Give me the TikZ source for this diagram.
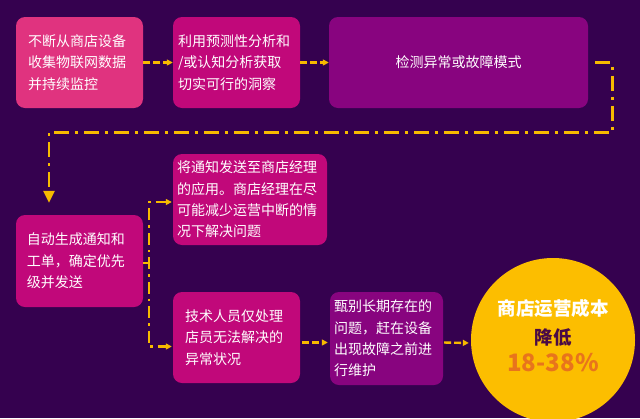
\documentclass[tikz,border=0pt]{standalone}
\usepackage{fontspec}
\newfontfamily\cjk{Noto Sans CJK SC}
\usepackage{tikz}
\usetikzlibrary{positioning, calc, arrows.meta}

\definecolor{bgpurple}{HTML}{35014F}
\definecolor{pinkbox}{HTML}{E0337F}
\definecolor{magbox}{HTML}{C1087A}
\definecolor{purplebox}{HTML}{88047F}
\definecolor{flowyellow}{HTML}{F7BA00}
\definecolor{costyellow}{HTML}{FCBE00}
\definecolor{darkplum}{HTML}{4A0A45}
\definecolor{costorange}{HTML}{E8741C}

\begin{document}
\begin{tikzpicture}[
x=1pt, y=-1pt,
    stepbox/.style={rectangle, rounded corners=9pt, minimum height=91pt, text=white, align=left, inner sep=0pt, font=\cjk\fontsize{14}{21.3}\selectfont},
    costtext/.style={inner sep=0pt, font=\cjk\bfseries\fontsize{18.5}{22}\selectfont},
    flow/.style={draw=flowyellow, line width=2.4pt, dash pattern=on 7pt off 3pt, -{Triangle[length=6pt,width=6pt]}},
    loopline/.style={draw=flowyellow, line width=2.6pt, dash pattern=on 15pt off 6pt on 3pt off 6pt, -{Triangle[length=12pt,width=11pt]}},
    branch/.style={draw=flowyellow, line width=2.4pt, dash pattern=on 12pt off 5pt on 2.5pt off 5pt, -{Triangle[length=6pt,width=6pt]}}
]

    \useasboundingbox[fill=bgpurple] (0,0) rectangle (640,418);

    % ================= TOP ROW =================
    \node[stepbox, fill=pinkbox, minimum width=127pt, text width=103pt] (collect) at (79.5, 62.5) {不断从商店设备\\收集物联网数据\\并持续监控};
    \node[stepbox, fill=magbox, minimum width=127pt, text width=117pt] (insight) at (236.5, 62.5) {利用预测性分析和\\/或认知分析获取\\切实可行的洞察};
    \node[stepbox, fill=purplebox, minimum width=259pt, align=center] (detect) at (458.5, 62.5) {检测异常或故障模式};

    \draw[flow] (collect) -- (insight);
    \draw[flow] (insight) -- (detect);

    % ================= LOWER PART =================
    \node[stepbox, fill=magbox, minimum width=127pt, minimum height=92pt, text width=105pt] (alert) at (79.5, 261) {自动生成通知和\\工单，确定优先\\级并发送};
    \node[stepbox, fill=magbox, minimum width=154pt, text width=146pt] (notify) at (250, 199.5) {将通知发送至商店经理\\的应用。商店经理在尽\\可能减少运营中断的情\\况下解决问题};
    \node[stepbox, fill=magbox, minimum width=127pt, text width=103pt] (tech) at (236.5, 337.5) {技术人员仅处理\\店员无法解决的\\异常状况};
    \node[stepbox, fill=purplebox, minimum width=113pt, minimum height=93pt, text width=105pt] (probe) at (386.5, 338.5) {甄别长期存在的\\问题，赶在设备\\出现故障之前进\\行维护};

    % loop back from the top row
    \draw[loopline, shorten <=7pt, shorten >=12pt] (detect.east) -- ++(24,0) -- ++(0,70) -| ([xshift=-30.5pt]alert.north);

    \draw[branch, shorten >=1pt] ([yshift=-2pt]alert.east) -- ++(6,0) |- ([yshift=-2.5pt]notify.west);
    \draw[branch, shorten >=1pt] ([yshift=-2pt]alert.east) -- ++(6,0) |- ([yshift=-9pt]tech.west);
    \draw[flow, shorten <=2pt, shorten >=2pt] ([yshift=-5pt]tech.east) -- ([yshift=-4pt]probe.west);

    % ================= RESULT =================
    \node[circle, fill=costyellow, minimum size=164pt, inner sep=0pt] (cost) at (553, 340) {};
    \node[costtext, text=white] (costtitle) at (553, 308) {商店运营成本};
    \node[costtext, text=darkplum] (costdown) at (553, 337) {降低};
    \node[costtext, text=costorange, font=\cjk\bfseries\fontsize{24}{26}\selectfont] (costrange) at (553, 363) {18-38\%};

    \draw[flow, shorten <=1pt, shorten >=2pt] ([yshift=-4pt]probe.east) -- ([yshift=-3pt]cost.west);

\end{tikzpicture}
\end{document}
